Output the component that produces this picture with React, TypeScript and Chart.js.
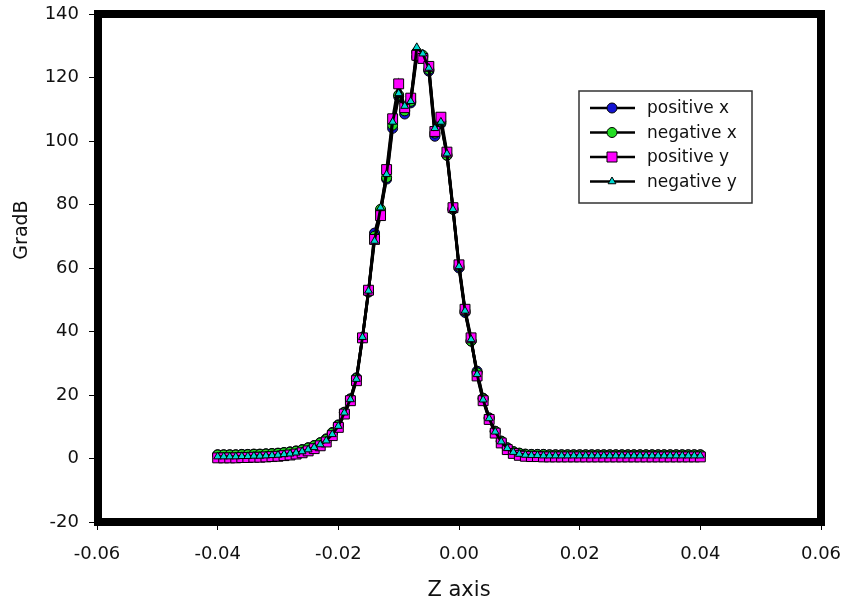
import React, { useEffect, useRef } from "react";
import { Chart, registerables } from "chart.js";

Chart.register(...registerables);

// Z positions (m)
const zAxis = [
  -0.04, -0.039, -0.038, -0.037, -0.036, -0.035, -0.034, -0.033, -0.032, -0.031,
  -0.03, -0.029, -0.028, -0.027, -0.026, -0.025, -0.024, -0.023, -0.022, -0.021,
  -0.02, -0.019, -0.018, -0.017, -0.016, -0.015, -0.014, -0.013, -0.012, -0.011,
  -0.01, -0.009, -0.008, -0.007, -0.006, -0.005, -0.004, -0.003, -0.002, -0.001,
  0.0, 0.001, 0.002, 0.003, 0.004, 0.005, 0.006, 0.007, 0.008, 0.009,
  0.01, 0.011, 0.012, 0.013, 0.014, 0.015, 0.016, 0.017, 0.018, 0.019,
  0.02, 0.021, 0.022, 0.023, 0.024, 0.025, 0.026, 0.027, 0.028, 0.029,
  0.03, 0.031, 0.032, 0.033, 0.034, 0.035, 0.036, 0.037, 0.038, 0.039,
  0.04,
];

const positiveX = [
  1.2, 1.2, 1.2, 1.2, 1.3, 1.3, 1.4, 1.4, 1.5, 1.6,
  1.7, 1.9, 2.1, 2.4, 2.8, 3.4, 4.1, 5.0, 6.2, 8.2,
  10.6, 14.6, 18.8, 25.4, 38.0, 52.4, 71.0, 78.0, 88.0, 104.0,
  114.0, 108.5, 112.0, 126.5, 126.5, 122.0, 101.5, 105.5, 95.5, 78.5,
  60.0, 46.0, 37.0, 27.5, 19.0, 12.8, 8.6, 5.5, 3.4, 2.2,
  1.7, 1.4, 1.3, 1.3, 1.3, 1.2, 1.2, 1.2, 1.2, 1.2,
  1.2, 1.2, 1.2, 1.2, 1.2, 1.2, 1.2, 1.2, 1.2, 1.2,
  1.2, 1.2, 1.2, 1.2, 1.2, 1.2, 1.2, 1.2, 1.2, 1.2,
  1.2,
];

const negativeX = [
  1.1, 1.1, 1.1, 1.1, 1.2, 1.2, 1.3, 1.3, 1.4, 1.5,
  1.6, 1.8, 2.0, 2.3, 2.7, 3.3, 4.0, 4.9, 6.0, 8.0,
  10.4, 14.5, 18.7, 25.2, 38.1, 52.6, 70.0, 78.5, 88.5, 105.0,
  114.5, 109.5, 112.5, 128.0, 127.0, 122.5, 102.5, 106.0, 95.5, 78.5,
  60.5, 46.5, 37.0, 27.0, 18.8, 12.7, 8.5, 5.4, 3.3, 2.1,
  1.6, 1.3, 1.2, 1.2, 1.2, 1.1, 1.1, 1.1, 1.1, 1.1,
  1.1, 1.1, 1.1, 1.1, 1.1, 1.1, 1.1, 1.1, 1.1, 1.1,
  1.1, 1.1, 1.1, 1.1, 1.1, 1.1, 1.1, 1.1, 1.1, 1.1,
  1.1,
];

const positiveY = [
  0.2, 0.2, 0.2, 0.2, 0.3, 0.3, 0.4, 0.4, 0.5, 0.6,
  0.7, 0.9, 1.1, 1.4, 1.8, 2.4, 3.1, 4.0, 5.2, 7.2,
  9.8, 14.0, 18.2, 24.5, 38.0, 53.0, 69.0, 76.5, 91.0, 107.0,
  118.0, 110.5, 113.5, 127.0, 126.0, 123.5, 103.0, 107.5, 96.5, 79.0,
  61.0, 47.0, 38.0, 26.0, 18.2, 12.3, 8.0, 4.9, 2.8, 1.6,
  1.0, 0.7, 0.6, 0.6, 0.5, 0.5, 0.5, 0.5, 0.5, 0.5,
  0.5, 0.5, 0.5, 0.5, 0.5, 0.5, 0.5, 0.5, 0.5, 0.5,
  0.5, 0.5, 0.5, 0.5, 0.5, 0.5, 0.5, 0.5, 0.5, 0.5,
  0.5,
];

const negativeY = [
  0.6, 0.6, 0.6, 0.6, 0.7, 0.7, 0.8, 0.8, 0.9, 1.0,
  1.1, 1.3, 1.5, 1.8, 2.2, 2.8, 3.5, 4.4, 5.6, 7.6,
  10.2, 14.4, 18.6, 25.0, 38.2, 52.8, 68.5, 79.0, 89.5, 106.0,
  115.0, 111.0, 112.5, 129.5, 127.5, 123.0, 104.0, 106.0, 96.0, 78.5,
  60.5, 46.5, 37.5, 26.5, 18.5, 12.6, 8.4, 5.3, 3.2, 2.0,
  1.4, 1.1, 1.0, 1.0, 0.9, 0.9, 0.9, 0.9, 0.9, 0.9,
  0.9, 0.9, 0.9, 0.9, 0.9, 0.9, 0.9, 0.9, 0.9, 0.9,
  0.9, 0.9, 0.9, 0.9, 0.9, 0.9, 0.9, 0.9, 0.9, 0.9,
  0.9,
];

const seriesNames = ["positive x", "negative x", "positive y", "negative y"];
const seriesColors = ["#1414d2", "#22dd22", "#ff00ff", "#00d8d0"];
const seriesMarkers = ["circle", "circle", "rect", "triangle"];
const seriesRadius = [5, 5, 7, 4.5];

const xTitle = "Z axis";
const yTitle = "GradB";
const xMin = -0.06;
const xMax = 0.06;
const xStep = 0.02;
const yMin = -20;
const yMax = 140;
const yStep = 20;

const FONT = "'DejaVu Sans', sans-serif";

function drawMarker(ctx: CanvasRenderingContext2D, kind: string, x: number, y: number, color: string) {
  ctx.save();
  ctx.fillStyle = color;
  ctx.strokeStyle = "#000";
  ctx.lineWidth = 1;
  ctx.beginPath();
  if (kind === "circle") {
    ctx.arc(x, y, 5, 0, Math.PI * 2);
  } else if (kind === "rect") {
    ctx.rect(x - 5, y - 5, 10, 10);
  } else {
    const r = 4.5;
    for (let i = 0; i < 3; i++) {
      const a = (i * 2 * Math.PI) / 3;
      const px = x + Math.sin(a) * r;
      const py = y - Math.cos(a) * r;
      if (i === 0) ctx.moveTo(px, py);
      else ctx.lineTo(px, py);
    }
    ctx.closePath();
  }
  ctx.fill();
  ctx.stroke();
  ctx.restore();
}

const framePlugin = {
  id: "framePlugin",
  afterDraw(chart: any) {
    const { ctx, chartArea } = chart;
    const { left, right, top, bottom } = chartArea;
    ctx.save();
    // thick frame
    ctx.strokeStyle = "#000";
    ctx.lineWidth = 8;
    ctx.strokeRect(left + 1, top, right - left - 1, bottom - top);

    // axis titles
    ctx.fillStyle = "#111";
    ctx.textAlign = "center";
    ctx.textBaseline = "middle";
    ctx.font = `21px ${FONT}`;
    ctx.fillText(xTitle, (left + right) / 2, 591);
    ctx.save();
    ctx.translate(22, 230);
    ctx.rotate(-Math.PI / 2);
    ctx.font = `19px ${FONT}`;
    ctx.fillText(yTitle, 0, 0);
    ctx.restore();

    // legend
    const bx = 579, by = 91, bw = 173, bh = 112;
    ctx.fillStyle = "#fff";
    ctx.fillRect(bx, by, bw, bh);
    ctx.strokeStyle = "#333";
    ctx.lineWidth = 1.5;
    ctx.strokeRect(bx, by, bw, bh);
    const rows = [108, 132.5, 157, 181.5];
    ctx.font = `17px ${FONT}`;
    ctx.textAlign = "left";
    ctx.textBaseline = "middle";
    seriesNames.forEach((name, i) => {
      const yy = rows[i];
      ctx.strokeStyle = "#000";
      ctx.lineWidth = 2.5;
      ctx.beginPath();
      ctx.moveTo(590, yy);
      ctx.lineTo(635, yy);
      ctx.stroke();
      drawMarker(ctx, seriesMarkers[i], 612, yy, seriesColors[i]);
      ctx.fillStyle = "#111";
      ctx.fillText(name, 647, yy + 1);
    });
    ctx.restore();
  },
};

export default function App() {
  const canvasRef = useRef<HTMLCanvasElement | null>(null);

  useEffect(() => {
    if (!canvasRef.current) return;
    const seriesValues = [positiveX, negativeX, positiveY, negativeY];
    const datasets = seriesValues.map((vals, i) => ({
      label: seriesNames[i],
      data: zAxis.map((z, k) => ({ x: z, y: vals[k] })),
      borderColor: "#000",
      borderWidth: 2.8,
      backgroundColor: seriesColors[i],
      pointBackgroundColor: seriesColors[i],
      pointBorderColor: "#000",
      pointBorderWidth: 1,
      pointStyle: seriesMarkers[i],
      pointRadius: seriesRadius[i],
      pointHoverRadius: seriesRadius[i],
      tension: 0,
      fill: false,
      order: 4 - i,
    }));

    const chart = new Chart(canvasRef.current, {
      type: "line",
      data: { datasets },
      options: {
        animation: false,
        responsive: false,
        maintainAspectRatio: false,
        layout: { padding: { top: 14, right: 23, left: 0, bottom: 0 } },
        plugins: {
          legend: { display: false },
          tooltip: { enabled: false },
          title: { display: false },
        },
        scales: {
          x: {
            type: "linear",
            min: xMin,
            max: xMax,
            border: { display: false },
            grid: {
              display: true,
              drawOnChartArea: false,
              drawTicks: true,
              tickLength: 8,
              color: "#000",
              lineWidth: 1,
            },
            ticks: {
              stepSize: xStep,
              padding: 14,
              color: "#111",
              font: { family: FONT, size: 18 },
              maxRotation: 0,
              autoSkip: false,
              callback: (v: any) => {
                const n = Number(v);
                return Math.abs(n) < 1e-9 ? "0.00" : n.toFixed(2);
              },
            },
            afterFit: (scale: any) => {
              scale.height = 81;
              scale.paddingLeft = 0;
              scale.paddingRight = 0;
            },
          },
          y: {
            type: "linear",
            min: yMin,
            max: yMax,
            border: { display: false },
            grid: {
              display: true,
              drawOnChartArea: false,
              drawTicks: true,
              tickLength: 8,
              color: "#000",
              lineWidth: 1,
            },
            ticks: {
              stepSize: yStep,
              padding: 10,
              color: "#111",
              font: { family: FONT, size: 18 },
            },
            afterFit: (scale: any) => {
              scale.width = 97;
              scale.paddingTop = 0;
              scale.paddingBottom = 0;
            },
          },
        },
      },
      plugins: [framePlugin],
    } as any);

    return () => chart.destroy();
  }, []);

  return (
    <div style={{ position: "fixed", left: 0, top: 0, width: 844, height: 603, background: "#fff" }}>
      <canvas ref={canvasRef} width={844} height={603} style={{ display: "block", width: 844, height: 603 }} />
    </div>
  );
}
